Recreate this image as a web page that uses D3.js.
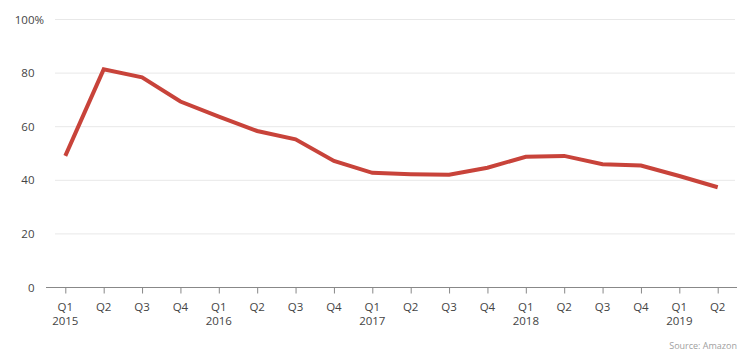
<!DOCTYPE html>
<html lang="en">
<head>
    <meta charset="UTF-8"/>
    <title>Quarterly share chart</title>
    <script src="https://d3js.org/d3.v7.min.js"></script>
    <style>
        body { margin: 0; background: #fff; }
        text { font-family: "Open Sans", "Noto Sans", sans-serif; }
    </style>
</head>
<body>
    <div id="chart"></div>

    <script>
        // Data
        var quarters = ["Q1", "Q2", "Q3", "Q4", "Q1", "Q2", "Q3", "Q4", "Q1",
                        "Q2", "Q3", "Q4", "Q1", "Q2", "Q3", "Q4", "Q1", "Q2"];
        var years = ["2015", "", "", "", "2016", "", "", "", "2017",
                     "", "", "", "2018", "", "", "", "2019", ""];
        var values = [49.1, 81.4, 78.4, 69.4, 63.8, 58.4, 55.3, 47.2, 42.8,
                      42.3, 42.1, 44.7, 48.8, 49.1, 46.0, 45.5, 41.6, 37.4];
        var yTicks = [0, 20, 40, 60, 80, 100];

        var width = 750;
        var height = 363;

        var svg = d3.select("#chart")
            .append("svg")
            .attr("width", width)
            .attr("height", height);

        var xScale = d3.scalePoint()
            .domain(d3.range(values.length))
            .range([65.3, 717.7]);

        var yScale = d3.scaleLinear()
            .domain([0, 100])
            .range([287.5, 19.5]);

        // Grid lines
        svg.selectAll("line.grid")
            .data(yTicks.slice(1))
            .enter()
            .append("line")
            .attr("class", "grid")
            .attr("x1", 55)
            .attr("x2", 735)
            .attr("y1", function(d) { return yScale(d); })
            .attr("y2", function(d) { return yScale(d); })
            .attr("stroke", "#e8e8e8")
            .attr("stroke-width", 1);

        // Y tick labels (the % sign hangs to the right of the number)
        var yLabels = svg.selectAll("text.ylabel")
            .data(yTicks)
            .enter()
            .append("text")
            .attr("class", "ylabel")
            .attr("x", 34.5)
            .attr("y", function(d) { return yScale(d); })
            .attr("dy", "0.35em")
            .attr("text-anchor", "end")
            .attr("font-size", "11.5px")
            .attr("fill", "#444")
            .text(function(d) { return d; });

        svg.append("text")
            .attr("x", 34.5)
            .attr("y", yScale(100))
            .attr("dy", "0.35em")
            .attr("font-size", "11.5px")
            .attr("fill", "#444")
            .text("%");

        // X axis
        var xAxis = d3.axisBottom(xScale)
            .tickSize(6)
            .tickFormat("");

        var gx = svg.append("g")
            .attr("transform", "translate(0," + yScale(0) + ")")
            .call(xAxis);
        gx.select(".domain").remove();
        gx.selectAll(".tick line").attr("stroke", "#888");

        svg.append("line")
            .attr("x1", 46)
            .attr("x2", 737)
            .attr("y1", yScale(0))
            .attr("y2", yScale(0))
            .attr("stroke", "#888")
            .attr("stroke-width", 1);

        svg.selectAll("text.quarter")
            .data(quarters)
            .enter()
            .append("text")
            .attr("class", "quarter")
            .attr("x", function(d, i) { return xScale(i); })
            .attr("y", 311)
            .attr("text-anchor", "middle")
            .attr("font-size", "11.5px")
            .attr("fill", "#444")
            .text(function(d) { return d; });

        svg.selectAll("text.year")
            .data(years)
            .enter()
            .append("text")
            .attr("class", "year")
            .attr("x", function(d, i) { return xScale(i); })
            .attr("y", 325)
            .attr("text-anchor", "middle")
            .attr("font-size", "11.5px")
            .attr("fill", "#444")
            .text(function(d) { return d; });

        // Line
        var line = d3.line()
            .x(function(d, i) { return xScale(i); })
            .y(function(d) { return yScale(d); });

        svg.append("path")
            .datum(values)
            .attr("d", line)
            .attr("fill", "none")
            .attr("stroke", "#c8433a")
            .attr("stroke-width", 4)
            .attr("stroke-linejoin", "miter");

        // Source
        svg.append("text")
            .attr("x", 737)
            .attr("y", 349)
            .attr("text-anchor", "end")
            .attr("font-size", "9px")
            .attr("fill", "#a0a0a0")
            .text("Source: Amazon");
    </script>
</body>
</html>
